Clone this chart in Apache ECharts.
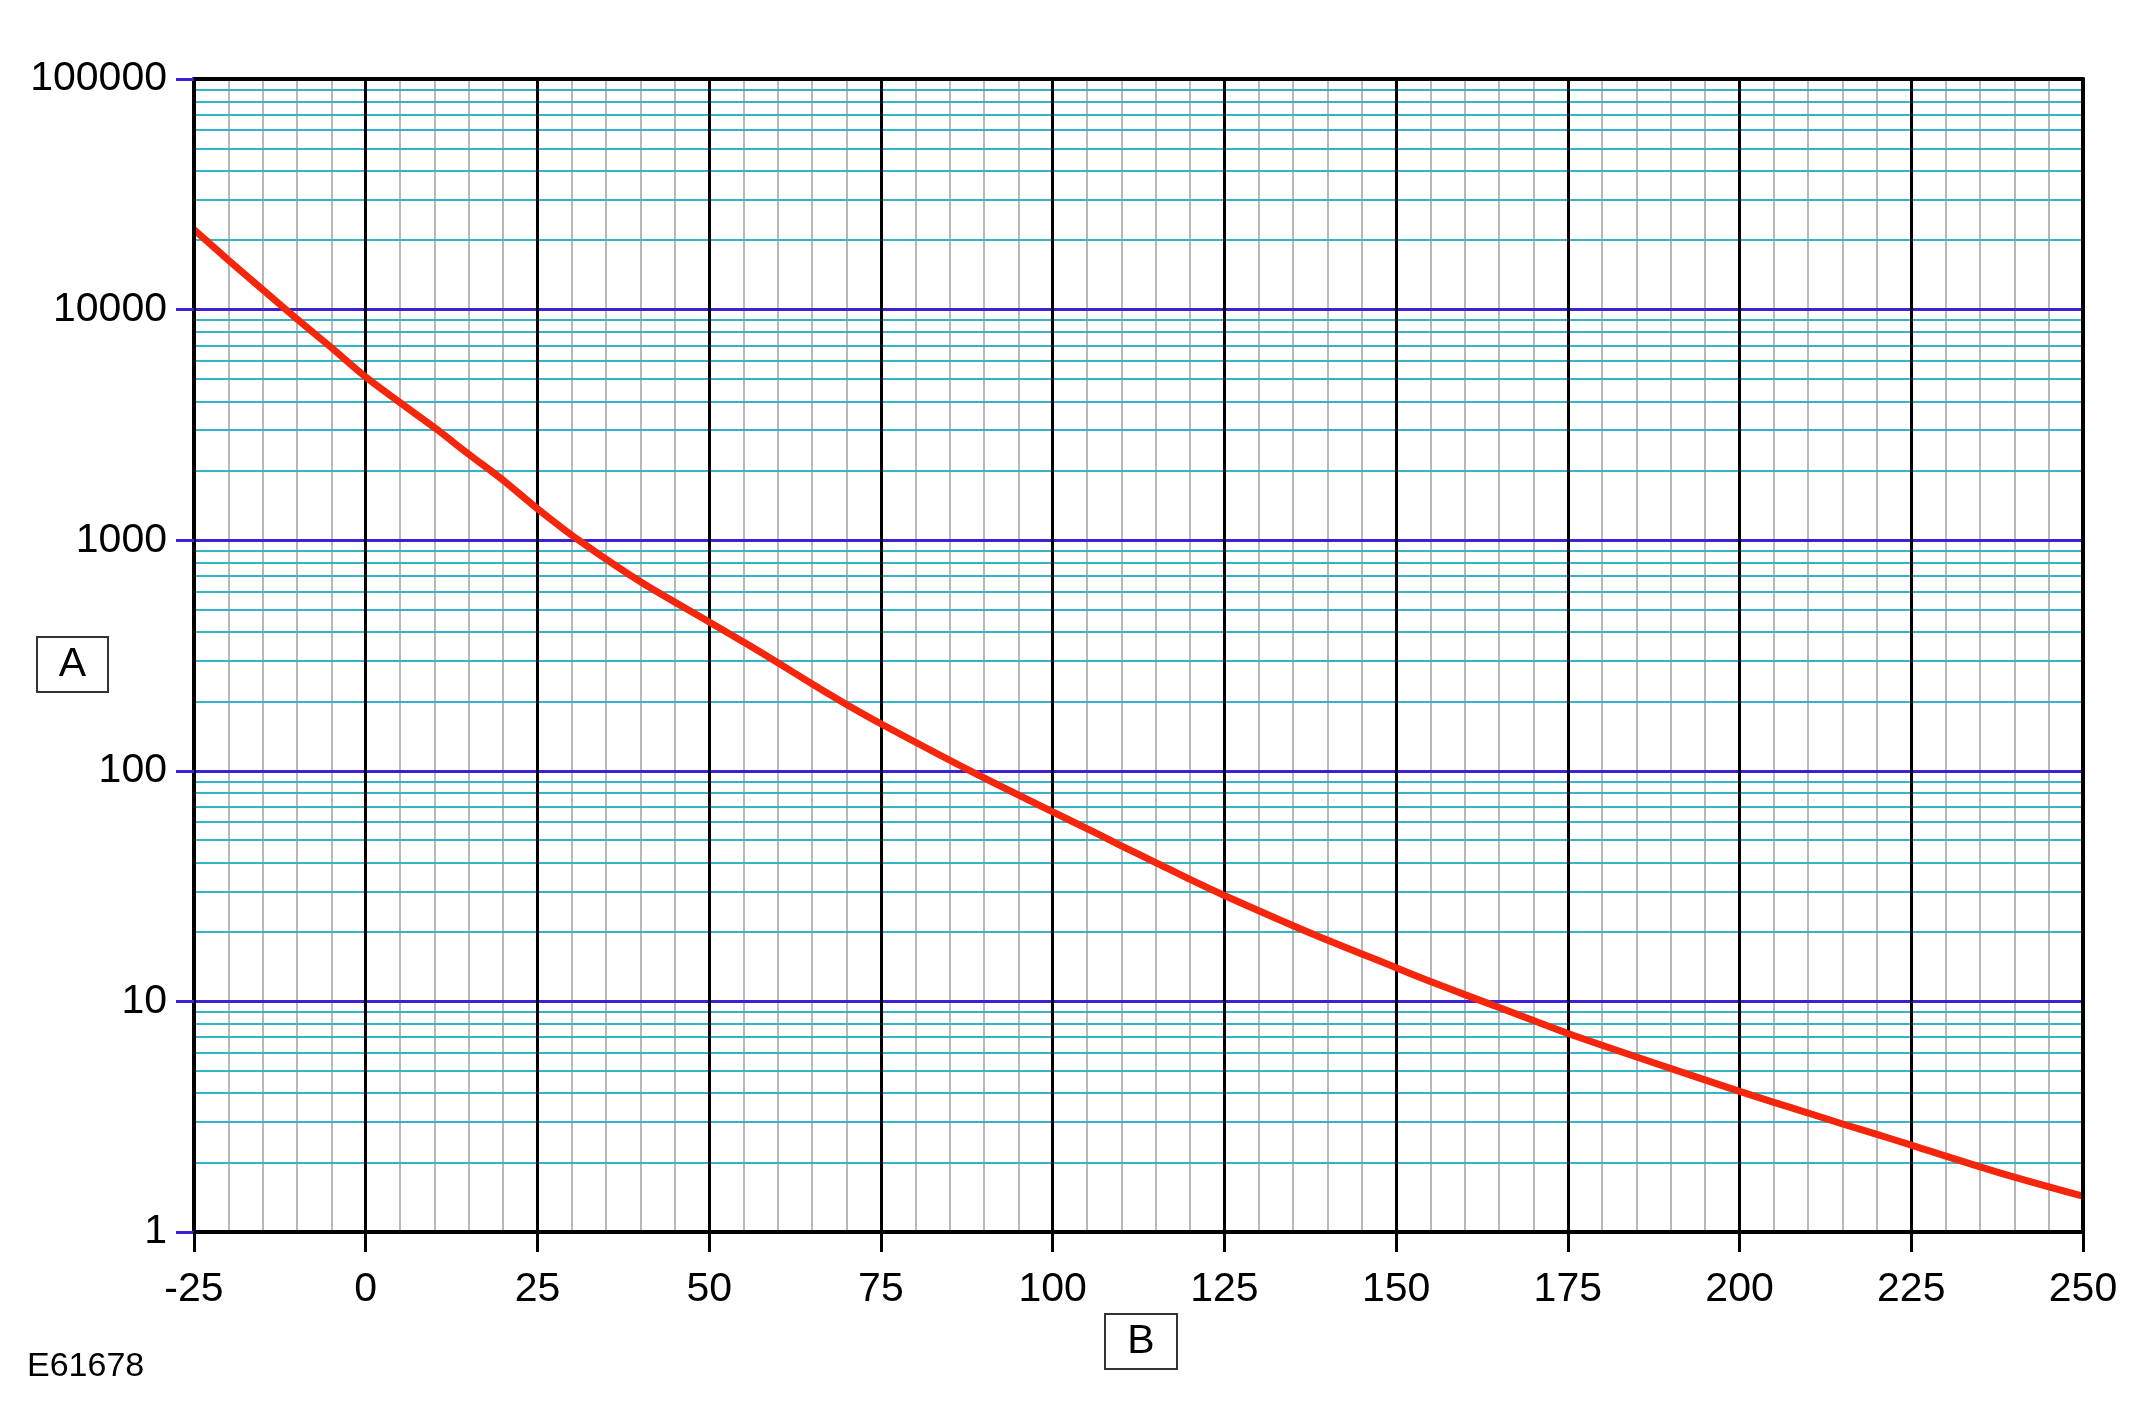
<!DOCTYPE html>
<html>
<head>
<meta charset="utf-8">
<script src="https://cdn.jsdelivr.net/npm/echarts@6/dist/echarts.min.js"></script>
<style>
html,body{margin:0;padding:0;background:#fff;}
#chart{width:2139px;height:1407px;}
</style>
</head>
<body>
<div id="chart"></div>
<script>
// ---- data ----
const temps  = [-25, -20, -15, -10, -5, 0, 5, 10, 15, 20, 25, 31, 40, 50, 55, 60, 65, 70, 75, 88, 100, 105, 110, 115, 120, 125, 137.5, 150, 155, 160, 165, 170, 175, 187.5, 200, 205, 210, 215, 220, 225, 237.5, 250];
const values = [22200, 16400, 12200, 9100, 6840, 5100, 3950, 3080, 2360, 1820, 1370, 1000, 660, 442, 362, 294, 238, 194, 160, 100, 66.4, 56.1, 47.3, 40, 33.8, 28.8, 19.8, 14.0, 12.2, 10.7, 9.4, 8.26, 7.26, 5.42, 4.07, 3.65, 3.28, 2.94, 2.65, 2.38, 1.82, 1.43];
const xTickLabels = [-25, 0, 25, 50, 75, 100, 125, 150, 175, 200, 225, 250];
const yTickLabels = [1, 10, 100, 1000, 10000, 100000];
const labelA = 'A';
const labelB = 'B';
const figId = 'E61678';

// ---- grid line positions (values on the axes) ----
const xMin = -25, xMax = 250, xMajor = 25, xMinor = 5;
const minorX = [];
for (let v = xMin + xMinor; v < xMax; v += xMinor) if ((v - xMin) % xMajor !== 0) minorX.push(v);
const majorX = xTickLabels.filter(v => v > xMin && v < xMax);
const majorY = yTickLabels.filter(v => v > 1 && v < 100000);
const minorY = [];
yTickLabels.slice(0, -1).forEach(d => { for (let m = 2; m <= 9; m++) minorY.push(m * d); });

const curve = temps.map((t, i) => [t, values[i]]);
const FONT = '"Liberation Sans", Arial, Helvetica, sans-serif';

function gridSeries(name, items, axisKey, color, width, z) {
  return {
    name, type: 'line', data: [], z, silent: true, animation: false,
    markLine: {
      silent: true, animation: false, symbol: ['none', 'none'],
      label: { show: false },
      lineStyle: { color, width, type: 'solid' },
      emphasis: { disabled: true },
      data: items.map(v => ({ [axisKey]: v }))
    }
  };
}

const chart = echarts.init(document.getElementById('chart'), null, { renderer: 'canvas' });
chart.setOption({
  backgroundColor: '#ffffff',
  animation: false,
  grid: { left: 194, right: 56, top: 79, bottom: 175, containLabel: false },
  xAxis: [{
    type: 'value', min: xMin, max: xMax, interval: xMajor, z: 10,
    axisLine: { onZero: false, lineStyle: { color: '#000', width: 4 } },
    axisTick: { show: true, inside: false, length: 20, lineStyle: { color: '#000', width: 3 } },
    axisLabel: { color: '#000', fontSize: 41, fontFamily: FONT, margin: 37, showMinLabel: true, showMaxLabel: true },
    splitLine: { show: false }
  }, {
    type: 'value', position: 'top', min: xMin, max: xMax, interval: xMajor, z: 10,
    axisLine: { onZero: false, lineStyle: { color: '#000', width: 4 } },
    axisTick: { show: false }, axisLabel: { show: false }, splitLine: { show: false }
  }],
  yAxis: [{
    type: 'log', logBase: 10, min: 1, max: 100000, z: 10,
    axisLine: { onZero: false, lineStyle: { color: '#000', width: 4 } },
    axisTick: { show: true, length: 18, lineStyle: { color: '#3b22d9', width: 3 } },
    axisLabel: { color: '#000', fontSize: 41, fontFamily: FONT, margin: 27,
      formatter: v => String(Math.round(v)) },
    splitLine: { show: false }
  }, {
    type: 'log', logBase: 10, min: 1, max: 100000, position: 'right', z: 10,
    axisLine: { onZero: false, lineStyle: { color: '#000', width: 4 } },
    axisTick: { show: false }, axisLabel: { show: false }, splitLine: { show: false }
  }],
  series: [
    gridSeries('minorX', minorX, 'xAxis', '#b8b8b8', 2, 1),
    gridSeries('minorY', minorY, 'yAxis', '#33b5c7', 2, 2),
    gridSeries('majorY', majorY, 'yAxis', '#3b22d9', 3, 3),
    gridSeries('majorX', majorX, 'xAxis', '#000000', 3, 4),
    {
      name: 'curve', type: 'line', data: curve, z: 6,
      smooth: 0.3, symbol: 'none',
      lineStyle: { color: '#f5260b', width: 7 },
      silent: true
    }
  ],
  graphic: [
    { type: 'rect', shape: { x: 37, y: 637, width: 71, height: 55 },
      style: { fill: '#fff', stroke: '#333', lineWidth: 2 }, z: 20 },
    { type: 'text', x: 72.5, y: 665, z: 21,
      style: { text: labelA, font: '41px ' + FONT, fill: '#000', textAlign: 'center', textVerticalAlign: 'middle' } },
    { type: 'rect', shape: { x: 1105, y: 1314, width: 72, height: 55 },
      style: { fill: '#fff', stroke: '#333', lineWidth: 2 }, z: 20 },
    { type: 'text', x: 1141, y: 1342, z: 21,
      style: { text: labelB, font: '41px ' + FONT, fill: '#000', textAlign: 'center', textVerticalAlign: 'middle' } },
    { type: 'text', x: 27, y: 1367, z: 21,
      style: { text: figId, font: '34px ' + FONT, fill: '#000', textAlign: 'left', textVerticalAlign: 'middle' } }
  ]
});
</script>
</body>
</html>
